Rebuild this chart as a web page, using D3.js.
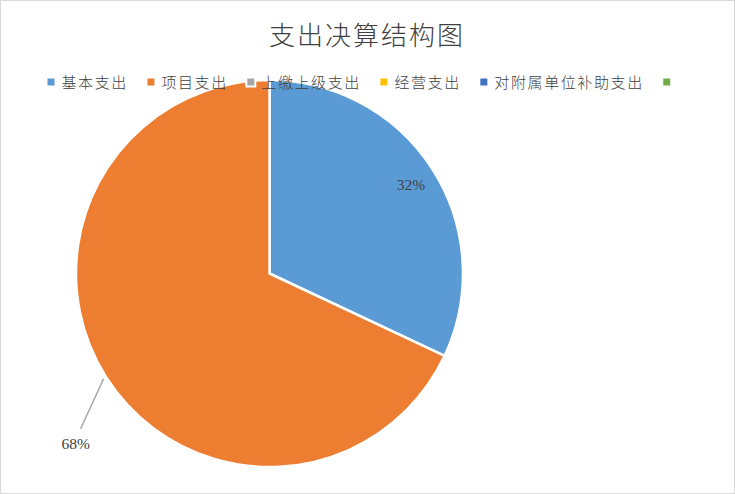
<!DOCTYPE html>
<html>
<head>
<meta charset="utf-8">
<script src="https://cdn.jsdelivr.net/npm/d3@7"></script>
<style>
  html, body { margin: 0; padding: 0; background: #fff; }
  svg { display: block; }
</style>
</head>
<body>
<svg id="chart" width="735" height="494"></svg>
<script>
const categories = ["基本支出", "项目支出", "上缴上级支出", "经营支出", "对附属单位补助支出", ""];
const values = [32, 68, 0, 0, 0, 0];
const colors = ["#5B9BD5", "#ED7D31", "#A5A5A5", "#FFC000", "#4472C4", "#70AD47"];
const title = "支出决算结构图";

const width = 735, height = 494;
const cx = 269.5, cy = 273.5, radius = 193.5;
const cjk = "'Noto Sans CJK SC', 'Noto Sans', sans-serif";

const svg = d3.select("#chart");

// chart frame
svg.append("rect")
    .attr("x", 0.5).attr("y", 0.5)
    .attr("width", width - 1).attr("height", height - 1)
    .attr("fill", "#fff")
    .attr("stroke", "#d9d9d9");

svg.append("text")
    .attr("x", 367)
    .attr("y", 45)
    .attr("text-anchor", "middle")
    .attr("font-family", cjk)
    .attr("font-weight", 300)
    .attr("font-size", 26)
    .attr("letter-spacing", 2)
    .attr("fill", "#404040")
    .text(title);

const data = categories.map((c, i) => ({ name: c, value: values[i], color: colors[i] }));

const pie = d3.pie().value(d => d.value).sort(null);
const arcs = pie(data);
const arc = d3.arc().innerRadius(0).outerRadius(radius);

const g = svg.append("g").attr("transform", `translate(${cx},${cy})`);

g.selectAll("path")
    .data(arcs.filter(d => d.value > 0))
    .join("path")
    .attr("d", arc)
    .attr("fill", d => d.data.color)
    .attr("stroke", "#fff")
    .attr("stroke-width", 2.5)
    .attr("stroke-linejoin", "round");

// percent labels: first inside, second outside with a leader line
const total = d3.sum(values);
const labelFont = "'Liberation Serif', 'DejaVu Serif', serif";
arcs.filter(d => d.value > 0).forEach((d, i) => {
    const mid = (d.startAngle + d.endAngle) / 2;
    const sx = Math.sin(mid), sy = -Math.cos(mid);
    const txt = d3.format(".0%")(d.value / total);
    if (i === 0) {
        g.append("text")
            .attr("x", sx * radius * 0.86 + 1)
            .attr("y", sy * radius * 0.86 + 6)
            .attr("text-anchor", "middle")
            .attr("font-family", labelFont)
            .attr("font-size", 15.5)
            .attr("fill", "#404040")
            .text(txt);
    } else {
        const x0 = sx * (radius + 3), y0 = sy * (radius + 3);
        const x1 = x0 - 23, y1 = y0 + 50;
        g.append("line")
            .attr("x1", x0).attr("y1", y0)
            .attr("x2", x1).attr("y2", y1)
            .attr("stroke", "#a6a6a6")
            .attr("stroke-width", 1.5);
        g.append("text")
            .attr("x", x1 - 5)
            .attr("y", y1 + 20)
            .attr("text-anchor", "middle")
            .attr("font-family", labelFont)
            .attr("font-size", 15.5)
            .attr("fill", "#404040")
            .text(txt);
    }
});

// legend, drawn over the pie
const legend = svg.append("g").attr("transform", "translate(46.5,82)");
let lx = 0;
data.forEach(d => {
    const item = legend.append("g").attr("transform", `translate(${lx},0)`);
    item.append("rect")
        .attr("x", 0).attr("y", -4.5)
        .attr("width", 9).attr("height", 9)
        .attr("fill", d.color)
        .attr("stroke", "#fff")
        .attr("stroke-width", 2);
    const t = item.append("text")
        .attr("x", 15)
        .attr("y", 5.5)
        .attr("font-family", cjk)
        .attr("font-weight", 300)
        .attr("font-size", 15)
        .attr("letter-spacing", 1.6)
        .attr("fill", "#404040")
        .text(d.name);
    const w = d.name ? t.node().getComputedTextLength() : 0;
    lx += 15 + w + 18.5;
});
</script>
</body>
</html>
